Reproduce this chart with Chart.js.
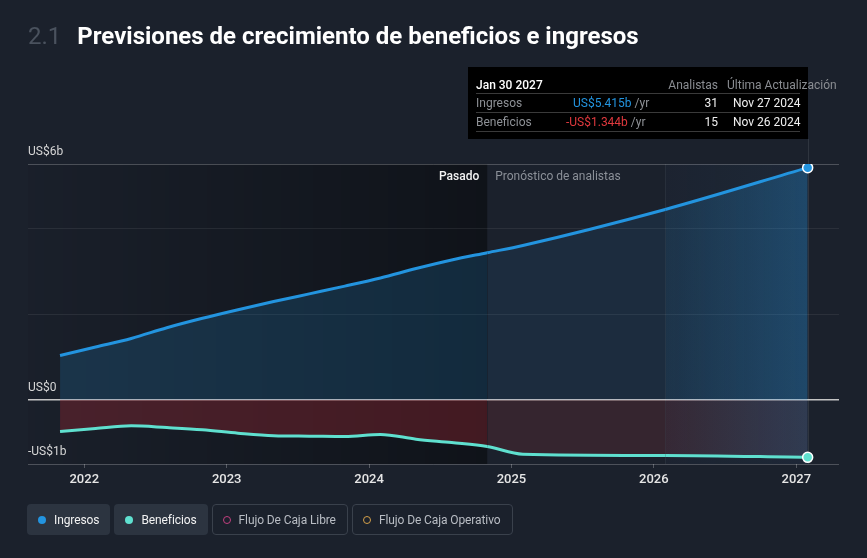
<!DOCTYPE html>
<html><head><meta charset="utf-8">
<script src="https://cdn.jsdelivr.net/npm/chart.js@4.4.1/dist/chart.umd.min.js"></script>
<style>
html,body{margin:0;padding:0;background:#1b212c;width:867px;height:558px;overflow:hidden;font-family:Roboto,"Noto Sans",sans-serif;}
#wrap{position:relative;width:867px;height:558px;}
#c{position:absolute;left:0;top:0;}
.title{position:absolute;left:28px;top:21px;font-size:24px;line-height:30px;color:#fff;font-weight:700;white-space:nowrap;}
.title .num{color:#4a525e;font-weight:400;margin-right:16px;}
.tip{position:absolute;left:468px;top:67px;width:340px;height:72px;background:#000;font-size:12px;}
.tip div{position:absolute;white-space:nowrap;line-height:14px;}
.tip .sep{height:1px;background:#3a3a3a;left:8px;width:324px;}
.legend{position:absolute;left:27px;top:504px;display:flex;gap:4px;}
.lb{height:31px;box-sizing:border-box;border-radius:4px;display:flex;align-items:center;padding:0 11px 0 11px;font-size:12px;white-space:nowrap;letter-spacing:-0.1px;}
.lb.on{background:#2c3440;color:#f2f2f2;}
.lb.off{border:1px solid #3a414c;color:#b9bdc4;padding-left:10px;}
.dot{width:8px;height:8px;border-radius:50%;margin-right:8px;box-sizing:border-box;}
</style></head>
<body><div id="wrap">
<canvas id="c" width="867" height="558"></canvas>
<div class="title"><span class="num">2.1</span>Previsiones de crecimiento de beneficios e ingresos</div>
<div class="tip" id="tip"></div>
<div class="legend" id="legend"></div>
</div>
<script>
// ---- data (US$ billions, x = decimal year) ----
const dates      = [2021.83, 2022.08, 2022.33, 2022.58, 2022.83, 2023.08, 2023.33, 2023.58, 2023.83, 2024.08, 2024.33, 2024.58, 2024.83, 2025.08, 2026.08, 2027.08];
const ingresos   = [1.03, 1.23, 1.43, 1.68, 1.90, 2.10, 2.29, 2.47, 2.65, 2.84, 3.06, 3.26, 3.43, 3.60, 4.44, 5.415];
const beneficios = [-0.74, -0.67, -0.61, -0.65, -0.70, -0.78, -0.84, -0.85, -0.86, -0.81, -0.92, -1.00, -1.09, -1.27, -1.30, -1.344];
const pastEnd = 2024.83;
const xTickValues = [2022, 2023, 2024, 2025, 2026, 2027];
const yTickValues = [-1.5, 0, 2, 4, 5.5];
const yTickLabels = ['-US$1b', 'US$0', '', '', 'US$6b'];
const seriesNames = ['Ingresos', 'Beneficios', 'Flujo De Caja Libre', 'Flujo De Caja Operativo'];
const seriesColors = ['#2394df', '#5fe0cf', '#c2407f', '#d4a04a'];
const seriesActive = [true, true, false, false];
const tipDate = 'Jan 30 2027';
const tipHeaders = ['Analistas', 'Última Actualización'];
const tipValues = ['US$5.415b', '-US$1.344b'];
const tipAnalysts = ['31', '15'];
const tipUpdated = ['Nov 27 2024', 'Nov 26 2024'];

const last = dates.length - 1;
const highlightStart = dates[last - 1];

// legend
const lg = document.getElementById('legend');
seriesNames.forEach((n, i) => {
  const b = document.createElement('div');
  b.className = 'lb ' + (seriesActive[i] ? 'on' : 'off');
  const d = document.createElement('span');
  d.className = 'dot';
  if (seriesActive[i]) d.style.background = seriesColors[i];
  else d.style.border = '1.5px solid ' + seriesColors[i];
  b.appendChild(d);
  b.appendChild(document.createTextNode(n));
  lg.appendChild(b);
});

// tooltip
const tip = document.getElementById('tip');
function add(html, style) { const d = document.createElement('div'); d.innerHTML = html; Object.assign(d.style, style); tip.appendChild(d); return d; }
add(tipDate, {left:'8px', top:'11px', color:'#fff', fontWeight:'500'});
add(tipHeaders[0], {right:'90px', top:'11px', color:'#8a8d92'});
add(tipHeaders[1], {left:'259px', top:'11px', color:'#8a8d92'});
[26, 45, 64].forEach(t => { const s = add('', {top:t+'px'}); s.className = 'sep'; });
const rowColors = ['#2394df', '#e0393e'];
[0, 1].forEach(r => {
  const top = (29 + r * 19) + 'px';
  add(seriesNames[r], {left:'8px', top, color:'#8e9196'});
  add('<span style="color:' + rowColors[r] + '">' + tipValues[r] + '</span> /yr', {left: (r ? '98px' : '105px'), top, color:'#8e9196'});
  add(tipAnalysts[r], {right:'90px', top, color:'#f0f0f0'});
  add(tipUpdated[r], {left:'265px', top, color:'#f0f0f0'});
});

function lastSegGrad(chart, c0, c1) {
  const a = chart.chartArea, x = chart.scales && chart.scales.x;
  if (!a || !x) return c1;
  const g = chart.ctx.createLinearGradient(x.getPixelForValue(highlightStart), 0, x.getPixelForValue(dates[last]), 0);
  g.addColorStop(0, c0); g.addColorStop(1, c1);
  return g;
}

const annot = {
  id: 'annot',
  beforeDraw(chart) {
    const {ctx, chartArea: a, scales: {x}} = chart;
    const xp = x.getPixelForValue(pastEnd);
    const g = ctx.createLinearGradient(a.left, 0, xp, 0);
    g.addColorStop(0, 'rgba(0,0,0,0.03)');
    g.addColorStop(1, 'rgba(0,0,0,0.42)');
    ctx.save();
    ctx.fillStyle = g;
    ctx.fillRect(a.left, a.top, xp - a.left, a.bottom - a.top);
    const h0 = x.getPixelForValue(highlightStart), h1 = x.getPixelForValue(dates[last]);
    const g2 = ctx.createLinearGradient(h0, 0, h1, 0);
    g2.addColorStop(0, 'rgba(70,130,200,0.03)');
    g2.addColorStop(1, 'rgba(70,130,200,0.07)');
    ctx.fillStyle = g2;
    ctx.fillRect(h0, a.top, h1 - h0, a.bottom - a.top);
    ctx.fillStyle = 'rgba(255,255,255,0.06)';
    ctx.fillRect(Math.round(h0), a.top, 1, a.bottom - a.top);
    ctx.fillStyle = 'rgba(255,255,255,0.09)';
    ctx.fillRect(Math.round(h1), 139, 1, a.bottom - 139);
    ctx.font = '500 12px Roboto';
    ctx.textBaseline = 'middle';
    ctx.textAlign = 'right';
    ctx.fillStyle = '#f2f2f2';
    ctx.fillText('Pasado', xp - 8, a.top + 13);
    ctx.textAlign = 'left';
    ctx.fillStyle = '#8b9098';
    ctx.font = '12px Roboto';
    ctx.fillText('Pronóstico de analistas', xp + 8, a.top + 13);
    ctx.restore();
  }
};

const ingPts = dates.map((d, i) => ({x: d, y: ingresos[i]}));
const benPts = dates.map((d, i) => ({x: d, y: beneficios[i]}));

new Chart(document.getElementById('c'), {
  type: 'line',
  data: {
    datasets: [
      {
        label: seriesNames[0], data: ingPts, borderColor: seriesColors[0], borderWidth: 3,
        backgroundColor: 'rgba(35,148,223,0.18)', fill: 'origin', cubicInterpolationMode: 'monotone',
        pointRadius: c => c.dataIndex === last ? 5 : 0, pointBackgroundColor: seriesColors[0],
        pointBorderColor: '#ffffff', pointBorderWidth: 1.5,
        segment: {
          backgroundColor: c => c.p1DataIndex === last ? lastSegGrad(c.chart, 'rgba(35,148,223,0.14)', 'rgba(35,148,223,0.30)')
            : (c.p1.parsed.x > pastEnd + 0.001 ? 'rgba(35,148,223,0.10)' : 'rgba(35,148,223,0.18)')
        }
      },
      {
        label: seriesNames[1], data: benPts, borderColor: seriesColors[1], borderWidth: 3,
        backgroundColor: 'rgba(150,38,48,0.38)', fill: 'origin', cubicInterpolationMode: 'monotone',
        pointRadius: c => c.dataIndex === last ? 5 : 0, pointBackgroundColor: seriesColors[1],
        pointBorderColor: '#ffffff', pointBorderWidth: 1.5,
        segment: {
          backgroundColor: c => c.p1DataIndex === last ? lastSegGrad(c.chart, 'rgba(160,60,70,0.2)', 'rgba(120,140,190,0.2)')
            : (c.p1.parsed.x > pastEnd + 0.001 ? 'rgba(160,55,60,0.2)' : 'rgba(150,38,48,0.38)')
        }
      }
    ]
  },
  options: {
    responsive: false, animation: false, events: [],
    layout: {padding: {left: 28, right: 28, top: 164, bottom: 64}},
    plugins: {legend: {display: false}, tooltip: {enabled: false}},
    scales: {
      x: {
        type: 'linear', min: 2021.605, max: 2027.30, offset: false,
        afterBuildTicks: s => { s.ticks = xTickValues.map(v => ({value: v})); },
        afterFit: s => { s.height = 30; },
        ticks: {callback: v => String(v), color: '#e6e6e6', font: {family: 'Roboto', size: 13, weight: '500'}, padding: 4, maxRotation: 0},
        grid: {drawOnChartArea: false, drawTicks: true, tickLength: 4, color: 'rgba(255,255,255,0.25)'},
        border: {display: false}
      },
      y: {
        type: 'linear', min: -1.5, max: 5.5,
        afterBuildTicks: s => { s.ticks = yTickValues.map(v => ({value: v})); },
        afterFit: s => { s.width = 0; },
        ticks: {
          mirror: true, padding: 0, labelOffset: -12, color: '#d6d6d6',
          font: {family: 'Roboto', size: 12},
          callback: v => { const i = yTickValues.indexOf(v); return i >= 0 ? yTickLabels[i] : ''; }
        },
        grid: {
          drawTicks: false,
          color: c => c.tick.value === 0 ? '#c4c4c4' : (c.tick.value === 2 || c.tick.value === 4 ? 'rgba(255,255,255,0.07)' : 'rgba(255,255,255,0.22)'),
          lineWidth: c => c.tick.value === 0 ? 1.5 : 1
        },
        border: {display: false}
      }
    }
  },
  plugins: [annot]
});
</script>
</body></html>
